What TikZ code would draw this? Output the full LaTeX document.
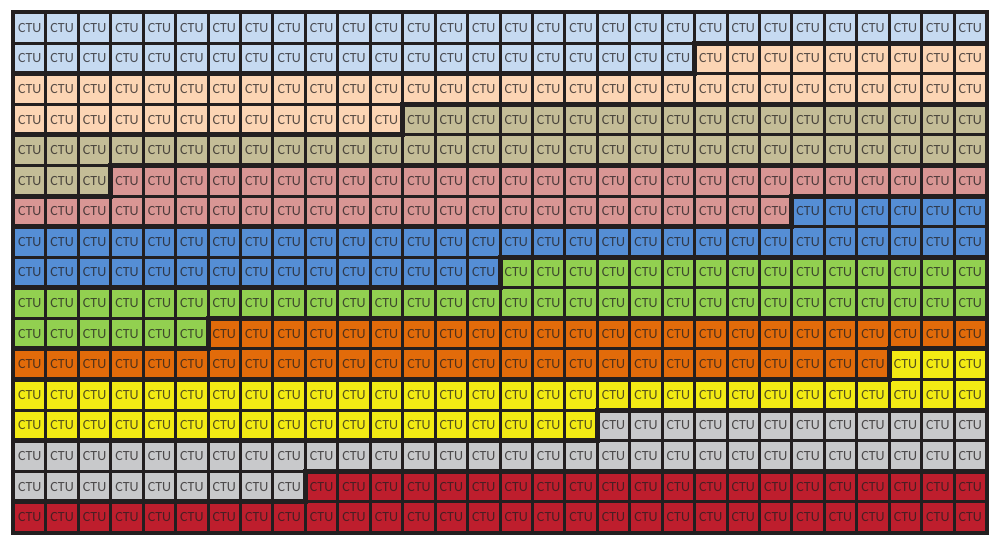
\documentclass[tikz,border=0pt]{standalone}
\usepackage{fontspec}
\setmainfont{Carlito}
\definecolor{dark}{HTML}{231F20}
\definecolor{sA}{HTML}{C6DAF1}
\definecolor{sB}{HTML}{FCD5B4}
\definecolor{sC}{HTML}{C4BD97}
\definecolor{sD}{HTML}{D99694}
\definecolor{sE}{HTML}{558ED5}
\definecolor{sF}{HTML}{92D050}
\definecolor{sG}{HTML}{E26B0A}
\definecolor{sH}{HTML}{F3EB14}
\definecolor{sI}{HTML}{C8C9CB}
\definecolor{sJ}{HTML}{BE1E2D}
\begin{document}
\begin{tikzpicture}[x=1pt,y=-1pt,
  cell/.style={rectangle, inner sep=0pt, minimum width=29.43pt, minimum height=27.59pt,
    text=dark, text opacity=0.75, font=\fontsize{14}{14}\selectfont},
  slicebound/.style={draw=dark, line width=5pt, line join=miter}]
\useasboundingbox (0,0) rectangle (1000,546);
\def\Lx{13.5}\def\Ty{12.5}\def\Wc{32.433}\def\Hc{30.588}
\def\Rx{986.5}
\fill[dark] (11,10) rectangle (989,535);
\foreach \s/\e/\col in {0/50/sA, 51/101/sB, 102/152/sC, 153/203/sD, 204/254/sE,
  255/305/sF, 306/356/sG, 357/407/sH, 408/458/sI, 459/509/sJ} {
  \foreach \i in {\s,...,\e} {
    \pgfmathtruncatemacro\r{floor(\i/30)}
    \pgfmathtruncatemacro\c{\i-30*\r}
    \node[cell, fill=\col] (n\i) at ({\Lx+\Wc*(\c+0.5)}, {\Ty+\Hc*(\r+0.5)}) {CTU};
  }
}
% slice boundaries: row/col where next slice starts
\foreach \r/\c in {1/21, 3/12, 5/3, 6/24, 8/15, 10/6, 11/27, 13/18, 15/9} {
  \draw[slicebound] (\Lx, {\Ty+\Hc*(\r+1)}) -| ({\Lx+\Wc*\c}, {\Ty+\Hc*\r}) -- (\Rx, {\Ty+\Hc*\r});
}
\end{tikzpicture}
\end{document}
